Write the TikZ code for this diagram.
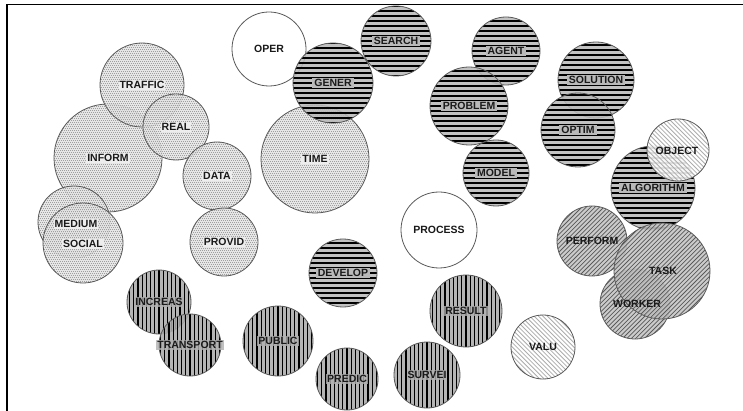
\documentclass[tikz,border=0pt]{standalone}
\usepackage{fontspec}
\setmainfont{Liberation Sans}
\begin{document}
\begin{tikzpicture}[x=1pt,y=-1pt,
  bub/.style={circle,inner sep=0pt,draw=black!65,line width=0.8pt,fill opacity=0.88},
  dotc/.style={bub,fill=gray!22,path picture={
      \foreach \k in {-28,...,28}{\draw[gray!75,line width=0.9pt,dash pattern=on 0.9pt off 1.1pt]
        ([shift={({-60+mod(abs(\k),2)},{\k*2})}]path picture bounding box.center) -- ++(120,0);}}},
  horc/.style={bub,fill=gray!55,path picture={
      \foreach \k in {-10,...,10}{\draw[black,line width=1.15pt]
        ([shift={(-60,{\k*5})}]path picture bounding box.center) -- ++(120,0);}}},
  verc/.style={bub,fill=gray!66,path picture={
      \foreach \k in {-14,...,14}{\draw[black,line width=1.05pt]
        ([shift={({\k*4.2},-60)}]path picture bounding box.center) -- ++(0,120);}}},
  diac/.style={bub,fill=gray!46,path picture={
      \foreach \k in {-30,...,30}{\draw[black!65,line width=0.75pt]
        ([shift={({\k*4.4-60},60)}]path picture bounding box.center) -- ++(120,-120);}}},
  wdiac/.style={bub,fill=white,path picture={
      \foreach \k in {-30,...,30}{\draw[gray!65,line width=0.8pt]
        ([shift={({\k*4.4-60},-60)}]path picture bounding box.center) -- ++(120,120);}}},
  whc/.style={bub,fill=white},
  lbl/.style={font=\bfseries\fontsize{10.5}{10.5}\selectfont,inner sep=1pt,text=black!90},
  dlbl/.style={lbl,fill=gray!14},
  hlbl/.style={lbl,fill=gray!55,inner xsep=2pt},
  vlbl/.style={lbl,fill=gray!62,fill opacity=0.8,text opacity=1},
]
\useasboundingbox (0,0) rectangle (743,411);
\coordinate (fbl) at (7,411);
\coordinate (ftl) at (7,4.5);
\coordinate (ftr) at (743,4.5);
\draw[line width=1.6pt] (fbl) -- (ftl) -- (ftr);

% dotted (light) circles
\node[dotc,minimum size=108pt] (inform) at (108,158) {};
\node[dotc,minimum size=84pt] (traffic) at (142,85) {};
\node[dotc,minimum size=66pt] (real) at (176,127) {};
\node[dotc,minimum size=68pt] (data) at (217,176) {};
\node[dotc,minimum size=72pt] (medium) at (74,222) {};
\node[dotc,minimum size=80pt] (social) at (83,243) {};
\node[dotc,minimum size=68pt] (provid) at (224,242) {};
\node[dotc,minimum size=108pt] (time) at (315,159) {};

% white circles
\node[whc,minimum size=74pt] (oper) at (269,49) {};
\node[whc,minimum size=76pt] (process) at (439,230) {};

% horizontal lines
\node[horc,minimum size=80pt] (gener) at (333,83) {};
\node[horc,minimum size=70pt] (search) at (396,41) {};
\node[horc,minimum size=68pt] (agent) at (506,51) {};
\node[horc,minimum size=78pt] (problem) at (469,106) {};
\node[horc,minimum size=76pt] (solution) at (596,80) {};
\node[horc,minimum size=74pt] (optim) at (578,130) {};
\node[horc,minimum size=66pt] (model) at (496,173) {};
\node[horc,minimum size=84pt] (algorithm) at (653,188) {};
\node[horc,minimum size=68pt] (develop) at (343,273) {};

% white diagonal
\node[wdiac,minimum size=62pt] (object) at (678,150) {};
\node[wdiac,minimum size=64pt] (valu) at (543,347) {};

% diagonal grey
\node[diac,minimum size=70pt] (perform) at (592,241) {};
\node[diac,minimum size=70pt] (worker) at (635,304) {};
\node[diac,minimum size=96pt] (task) at (662,271) {};

% vertical lines
\node[verc,minimum size=64pt] (increas) at (159,302) {};
\node[verc,minimum size=62pt] (transport) at (190,345) {};
\node[verc,minimum size=70pt] (public) at (278,341) {};
\node[verc,minimum size=62pt] (predic) at (347,379) {};
\node[verc,minimum size=72pt] (result) at (466,311) {};
\node[verc,minimum size=66pt] (survei) at (427,375) {};

% labels
\node[dlbl] (l-inform) at (inform) {INFORM};
\node[dlbl] (l-traffic) at (traffic) {TRAFFIC};
\node[dlbl] (l-real) at (real) {REAL};
\node[dlbl] (l-data) at (data) {DATA};
\node[dlbl] (l-medium) at (76,224) {MEDIUM};
\node[dlbl] (l-social) at (83,244) {SOCIAL};
\node[dlbl] (l-provid) at (provid) {PROVID};
\node[dlbl] (l-time) at (time) {TIME};
\node[lbl] (l-oper) at (oper) {OPER};
\node[lbl] (l-process) at (process) {PROCESS};
\node[hlbl] (l-gener) at (gener) {GENER};
\node[hlbl] (l-search) at (search) {SEARCH};
\node[hlbl] (l-agent) at (agent) {AGENT};
\node[hlbl] (l-problem) at (problem) {PROBLEM};
\node[hlbl] (l-solution) at (solution) {SOLUTION};
\node[hlbl] (l-optim) at (optim) {OPTIM};
\node[hlbl] (l-model) at (model) {MODEL};
\node[hlbl] (l-algorithm) at (algorithm) {ALGORITHM};
\node[hlbl] (l-develop) at (develop) {DEVELOP};
\node[lbl] (l-object) at (677,151) {OBJECT};
\node[lbl] (l-valu) at (valu) {VALU};
\node[lbl] (l-perform) at (perform) {PERFORM};
\node[lbl] (l-worker) at (637,304) {WORKER};
\node[lbl] (l-task) at (663,271) {TASK};
\node[vlbl] (l-increas) at (increas) {INCREAS};
\node[vlbl] (l-transport) at (transport) {TRANSPORT};
\node[vlbl] (l-public) at (public) {PUBLIC};
\node[vlbl] (l-predic) at (predic) {PREDIC};
\node[vlbl] (l-result) at (result) {RESULT};
\node[vlbl] (l-survei) at (survei) {SURVEI};
\end{tikzpicture}
\end{document}
